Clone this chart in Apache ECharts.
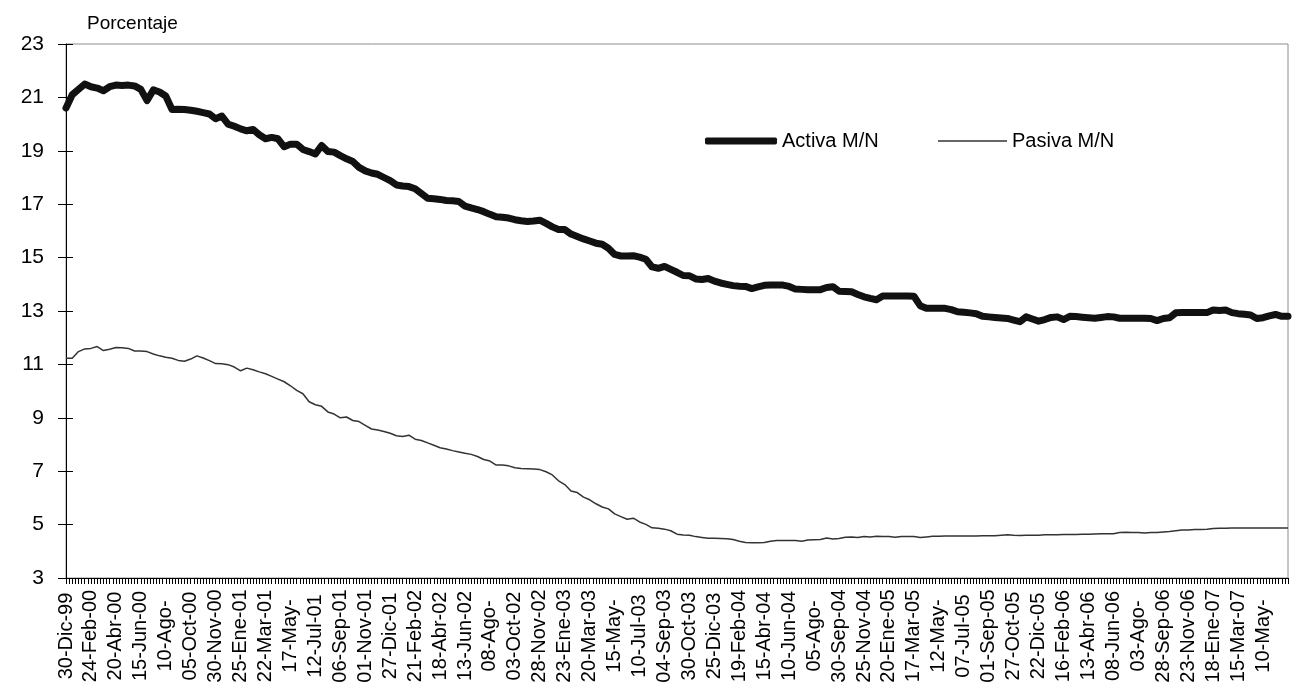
<!DOCTYPE html>
<html>
<head>
<meta charset="utf-8">
<script src="https://cdn.jsdelivr.net/npm/echarts@6/dist/echarts.min.js"></script>
<style>
  html, body { margin: 0; padding: 0; background: #fff; }
  #chart { width: 1296px; height: 690px; }
</style>
</head>
<body>
<div id="chart"></div>
<script>
// Tasas de interés en moneda nacional (porcentaje), observaciones quincenales
// a partir del 30-Dic-99. El eje X cuenta semanas desde esa fecha.
const PASO_SEMANAS = 2;      // semanas entre observaciones
const SEMANAS_ETIQUETA = 8;  // semanas entre etiquetas del eje

const FECHAS = ['30-Dic-99', '24-Feb-00', '20-Abr-00', '15-Jun-00', '10-Ago-', '05-Oct-00',
  '30-Nov-00', '25-Ene-01', '22-Mar-01', '17-May-', '12-Jul-01', '06-Sep-01', '01-Nov-01',
  '27-Dic-01', '21-Feb-02', '18-Abr-02', '13-Jun-02', '08-Ago-', '03-Oct-02', '28-Nov-02',
  '23-Ene-03', '20-Mar-03', '15-May-', '10-Jul-03', '04-Sep-03', '30-Oct-03', '25-Dic-03',
  '19-Feb-04', '15-Abr-04', '10-Jun-04', '05-Ago-', '30-Sep-04', '25-Nov-04', '20-Ene-05',
  '17-Mar-05', '12-May-', '07-Jul-05', '01-Sep-05', '27-Oct-05', '22-Dic-05', '16-Feb-06',
  '13-Abr-06', '08-Jun-06', '03-Ago-', '28-Sep-06', '23-Nov-06', '18-Ene-07', '15-Mar-07',
  '10-May-'];

const ACTIVA = [
  20.6, 21.1, 21.3, 21.5, 21.4, 21.35, 21.25, 21.4, 21.46, 21.45,
  21.46, 21.43, 21.3, 20.88, 21.28, 21.2, 21.05, 20.55, 20.56, 20.55,
  20.52, 20.48, 20.43, 20.38, 20.2, 20.3, 20.0, 19.92, 19.82, 19.75,
  19.8, 19.6, 19.45, 19.5, 19.45, 19.15, 19.25, 19.25, 19.05, 18.97,
  18.88, 19.2, 18.97, 18.95, 18.82, 18.7, 18.6, 18.38, 18.25, 18.17,
  18.12, 18.0, 17.88, 17.72, 17.68, 17.66, 17.58, 17.4, 17.22, 17.2,
  17.18, 17.14, 17.13, 17.1, 16.93, 16.86, 16.8, 16.72, 16.62, 16.53,
  16.51, 16.48, 16.42, 16.38, 16.35, 16.37, 16.4, 16.28, 16.15, 16.05,
  16.05, 15.88, 15.79, 15.7, 15.62, 15.54, 15.5, 15.35, 15.12, 15.06,
  15.06, 15.07, 15.02, 14.94, 14.65, 14.6, 14.67, 14.56, 14.45, 14.33,
  14.32, 14.2, 14.18, 14.22, 14.12, 14.05, 14.0, 13.95, 13.93, 13.92,
  13.84, 13.9, 13.96, 13.97, 13.97, 13.97, 13.92, 13.82, 13.81, 13.8,
  13.8, 13.8, 13.88, 13.91, 13.74, 13.73, 13.72, 13.62, 13.53, 13.47,
  13.42, 13.56, 13.56, 13.56, 13.56, 13.56, 13.55, 13.2, 13.1, 13.1,
  13.1, 13.1, 13.05, 12.97, 12.95, 12.93, 12.9, 12.8, 12.78, 12.76,
  12.74, 12.72, 12.66, 12.6, 12.78, 12.7, 12.62, 12.68, 12.76, 12.78,
  12.68, 12.8, 12.79, 12.77, 12.75, 12.73, 12.76, 12.79, 12.78, 12.73,
  12.73, 12.73, 12.73, 12.73, 12.72, 12.64, 12.72, 12.75, 12.93, 12.94,
  12.94, 12.94, 12.94, 12.94, 13.04, 13.02, 13.04, 12.94, 12.9, 12.88,
  12.85, 12.72, 12.75, 12.82, 12.87, 12.8, 12.8
];

const PASIVA = [
  11.23, 11.23, 11.48, 11.58, 11.6, 11.67, 11.52, 11.57, 11.63, 11.62,
  11.6, 11.5, 11.5, 11.48, 11.39, 11.32, 11.27, 11.23, 11.15, 11.12,
  11.2, 11.32, 11.24, 11.14, 11.03, 11.02, 10.99, 10.9, 10.76, 10.86,
  10.8, 10.72, 10.65, 10.55, 10.45, 10.35, 10.2, 10.03, 9.9, 9.6,
  9.49, 9.43, 9.22, 9.14, 9.0, 9.03, 8.9, 8.86, 8.72, 8.58,
  8.54, 8.49, 8.42, 8.33, 8.3, 8.35, 8.2, 8.15, 8.06, 7.97,
  7.88, 7.83, 7.77, 7.72, 7.67, 7.63, 7.55, 7.44, 7.38, 7.23,
  7.23, 7.2, 7.13, 7.1, 7.09, 7.08, 7.06, 6.98, 6.86, 6.64,
  6.5, 6.26, 6.2, 6.03, 5.93, 5.78, 5.66, 5.59, 5.4, 5.3,
  5.2, 5.24, 5.1, 5.01, 4.88, 4.86, 4.83, 4.77, 4.64, 4.61,
  4.6, 4.55, 4.52, 4.49, 4.49, 4.48, 4.47, 4.44, 4.38, 4.33,
  4.32, 4.32, 4.33, 4.38, 4.4, 4.4, 4.4, 4.4, 4.38, 4.42,
  4.43, 4.44, 4.5, 4.46, 4.48, 4.53, 4.54, 4.52, 4.55, 4.54,
  4.56, 4.55, 4.55, 4.53, 4.55, 4.55, 4.55, 4.52, 4.54, 4.56,
  4.56, 4.57, 4.57, 4.57, 4.57, 4.57, 4.57, 4.58, 4.58, 4.58,
  4.6, 4.62, 4.6, 4.59, 4.6, 4.6, 4.6, 4.62, 4.62, 4.62,
  4.63, 4.63, 4.63, 4.64, 4.64, 4.65, 4.66, 4.66, 4.66, 4.7,
  4.71, 4.7, 4.7, 4.69, 4.7, 4.7, 4.72, 4.74, 4.77, 4.8,
  4.8, 4.82, 4.82, 4.83, 4.85, 4.86, 4.86, 4.87, 4.87, 4.87,
  4.87, 4.87, 4.87, 4.87, 4.87, 4.87, 4.87
];

const Y_MIN = 3, Y_MAX = 23, Y_PASO = 2;
const FUENTE = '"Liberation Sans", Arial, sans-serif';
const COLOR_ACTIVA = '#111111';
const COLOR_PASIVA = '#333333';

const aPuntos = serie => serie.map((v, i) => [i * PASO_SEMANAS, v]);
const ultimaSemana = (ACTIVA.length - 1) * PASO_SEMANAS;

const chart = echarts.init(document.getElementById('chart'), null, { renderer: 'canvas' });

const ejeY = extra => Object.assign({
  type: 'value', min: Y_MIN, max: Y_MAX, interval: Y_PASO,
  splitLine: { show: false }
}, extra);

const textoLeyenda = { fontFamily: FUENTE, fontSize: 20, color: '#000' };

chart.setOption({
  backgroundColor: '#ffffff',
  animation: false,
  title: {
    text: 'Porcentaje', left: 82, top: 9,
    textStyle: { fontFamily: FUENTE, fontSize: 19, fontWeight: 'normal', color: '#000' }
  },
  legend: [
    {
      data: ['Activa M/N'], left: 700, top: 126, icon: 'roundRect',
      itemWidth: 72, itemHeight: 7, itemGap: 0,
      itemStyle: { color: COLOR_ACTIVA },
      textStyle: textoLeyenda
    },
    {
      data: ['Pasiva M/N'], left: 933, top: 126, icon: 'rect',
      itemWidth: 69, itemHeight: 1.5, itemGap: 0,
      itemStyle: { color: COLOR_PASIVA },
      textStyle: textoLeyenda
    }
  ],
  grid: {
    left: 66, right: 8, top: 44, bottom: 112,
    show: true, borderColor: '#8c8c8c', borderWidth: 1, backgroundColor: 'transparent'
  },
  xAxis: {
    type: 'value', min: 0, max: ultimaSemana, interval: SEMANAS_ETIQUETA,
    axisLine: { show: true, onZero: false, lineStyle: { color: '#000', width: 1 } },
    axisTick: { show: true, length: 6, lineStyle: { color: '#000' } },
    minorTick: { show: true, splitNumber: SEMANAS_ETIQUETA, length: 6, lineStyle: { color: '#000' } },
    splitLine: { show: false },
    axisLabel: {
      rotate: 90, align: 'center', verticalAlign: 'middle', margin: 58,
      padding: [0, 0, 12, 0],
      fontFamily: FUENTE, fontSize: 20, color: '#000',
      showMinLabel: true, showMaxLabel: true,
      formatter: v => FECHAS[Math.round(v / SEMANAS_ETIQUETA)] || ''
    }
  },
  yAxis: [
    ejeY({
      axisLine: { show: true, lineStyle: { color: '#000', width: 1 } },
      axisTick: { show: true, length: 8, lineStyle: { color: '#000' } },
      axisLabel: { margin: 22, fontFamily: FUENTE, fontSize: 21, color: '#000' }
    }),
    // marcas cruzadas: segunda escala idéntica con marcas hacia dentro
    ejeY({
      position: 'left',
      axisLine: { show: false },
      axisTick: { show: true, inside: true, length: 7, lineStyle: { color: '#000' } },
      axisLabel: { show: false }
    })
  ],
  series: [
    {
      name: 'Activa M/N', type: 'line', symbol: 'none', yAxisIndex: 0,
      data: aPuntos(ACTIVA),
      lineStyle: { color: COLOR_ACTIVA, width: 7, cap: 'round', join: 'round' },
      itemStyle: { color: COLOR_ACTIVA }
    },
    {
      name: 'Pasiva M/N', type: 'line', symbol: 'none', yAxisIndex: 0,
      data: aPuntos(PASIVA),
      lineStyle: { color: COLOR_PASIVA, width: 1.5 },
      itemStyle: { color: COLOR_PASIVA }
    }
  ]
});
</script>
</body>
</html>
